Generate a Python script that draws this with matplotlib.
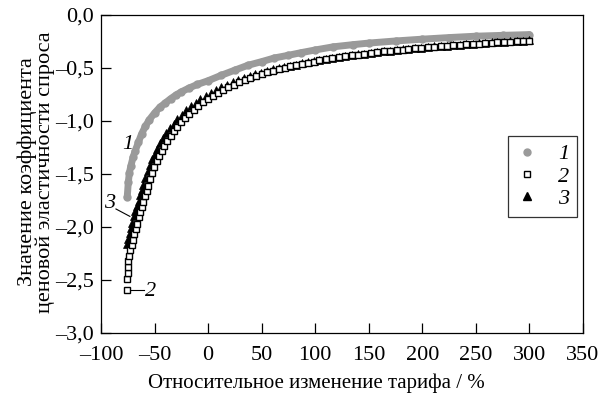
import matplotlib
matplotlib.use("Agg")
import matplotlib.pyplot as plt
from matplotlib.lines import Line2D
from matplotlib.ticker import FuncFormatter

plt.rcParams['font.family'] = ['Liberation Serif', 'DejaVu Serif']

# Series 1 (grey circles)
x1 = [-75.5, -74.5, -73.5, -72.0, -70.0, -68.0, -65.0, -62.0, -58.5, -55.0,
      -50.0, -45.0, -40.0, -35.0, -30.0, -25.0, -18.0, -10.0, 0.0, 12.0,
      25.0, 37.0, 50.0, 62.0, 75.0, 87.0, 100.0, 117.0, 135.0, 150.0,
      175.0, 200.0, 225.0, 250.0, 275.0, 300.0]
y1 = [-1.72, -1.58, -1.49, -1.42, -1.34, -1.28, -1.20, -1.12, -1.05, -0.99,
      -0.925, -0.87, -0.83, -0.79, -0.755, -0.725, -0.69, -0.655, -0.62, -0.57,
      -0.52, -0.475, -0.44, -0.405, -0.38, -0.355, -0.33, -0.30, -0.28, -0.265,
      -0.245, -0.228, -0.213, -0.20, -0.192, -0.185]

# Series 2 (open squares)
x2 = [-75.8, -75.4, -75.2, -74.9, -74.4, -73.7, -72.6, -71.4, -70.1, -68.8,
      -67.5, -66.2, -64.8, -63.3, -61.8, -60.3, -58.8, -57.3, -55.8, -54.0,
      -52.1, -50.1, -48.0, -45.7, -43.3, -40.7, -37.9, -35.0, -31.9, -28.6,
      -25.1, -21.4, -17.5, -13.5, -9.3, -4.9, -0.4, 4.3, 9.0, 13.9,
      18.9, 23.9, 29.0, 34.2, 39.4, 44.7, 50.0, 55.3, 60.7, 66.1,
      71.5, 76.9, 82.4, 87.9, 93.4, 98.9, 104, 110, 116, 122,
      128, 134, 140, 146, 152, 158, 164, 170, 176, 182,
      187, 193, 199, 205, 211, 217, 223, 229, 235, 241,
      247, 253, 259, 265, 270, 276, 282, 288, 294, 300]
y2 = [-2.59, -2.49, -2.43, -2.38, -2.32, -2.27, -2.22, -2.17, -2.12, -2.07,
      -2.02, -1.97, -1.91, -1.86, -1.81, -1.76, -1.71, -1.66, -1.61, -1.55,
      -1.49, -1.43, -1.382, -1.332, -1.283, -1.235, -1.187, -1.142, -1.097, -1.054,
      -1.011, -0.971, -0.931, -0.894, -0.859, -0.825, -0.792, -0.762, -0.734, -0.707,
      -0.681, -0.658, -0.635, -0.614, -0.595, -0.576, -0.559, -0.542, -0.527, -0.512,
      -0.498, -0.485, -0.473, -0.461, -0.449, -0.439, -0.429, -0.419, -0.409, -0.400,
      -0.390, -0.382, -0.374, -0.366, -0.358, -0.351, -0.344, -0.338, -0.332, -0.326,
      -0.321, -0.315, -0.310, -0.304, -0.299, -0.295, -0.290, -0.285, -0.281, -0.277,
      -0.273, -0.269, -0.265, -0.261, -0.258, -0.255, -0.251, -0.248, -0.245, -0.242]

# Series 3 (filled triangles)
x3 = [-75.9, -74.6, -73.3, -72.0, -70.7, -69.3, -67.8, -66.3, -64.8, -63.3,
      -61.8, -60.3, -58.5, -56.5, -54.5, -52.3, -49.9, -47.4, -44.8, -41.9,
      -38.9, -35.7, -32.2, -28.6, -24.6, -20.5, -16.2, -11.7, -7.1, -2.4,
      2.5, 7.4, 12.5, 17.7, 22.8, 28.1, 33.4, 38.7, 44.1, 49.5,
      54.9, 60.4, 65.8, 71.3, 76.7, 82.3, 87.8, 93.4, 98.9, 104,
      110, 116, 122, 128, 134, 140, 146, 152, 158, 164,
      170, 176, 182, 187, 193, 199, 205, 211, 217, 223,
      229, 235, 241, 247, 253, 259, 265, 270, 276, 282,
      288, 294, 300]
y3 = [-2.16, -2.11, -2.06, -2.01, -1.96, -1.90, -1.85, -1.80, -1.75, -1.70,
      -1.65, -1.60, -1.536, -1.475, -1.413, -1.363, -1.312, -1.261, -1.212, -1.162,
      -1.116, -1.069, -1.025, -0.980, -0.940, -0.900, -0.863, -0.828, -0.795, -0.762,
      -0.733, -0.706, -0.680, -0.656, -0.634, -0.612, -0.593, -0.576, -0.558, -0.543,
      -0.528, -0.514, -0.501, -0.489, -0.477, -0.467, -0.456, -0.445, -0.436, -0.427,
      -0.417, -0.407, -0.398, -0.388, -0.380, -0.372, -0.364, -0.356, -0.349, -0.342,
      -0.336, -0.330, -0.324, -0.319, -0.313, -0.308, -0.302, -0.297, -0.293, -0.288,
      -0.283, -0.279, -0.275, -0.271, -0.267, -0.263, -0.259, -0.256, -0.253, -0.249,
      -0.246, -0.243, -0.240]

series_labels = ['1', '2', '3']
x_ticks = [-100, -50, 0, 50, 100, 150, 200, 250, 300, 350]
y_ticks = [0.0, -0.5, -1.0, -1.5, -2.0, -2.5, -3.0]

GREY = '#9a9a9a'
FS = 16

fig = plt.figure(figsize=(6.01, 4.0), dpi=100)
ax = fig.add_axes([0.168, 0.1675, 0.802, 0.795])

ax.plot(x1, y1, color=GREY, lw=5.0, marker='o', ms=5.0, mec=GREY, mfc=GREY,
        solid_capstyle='round', solid_joinstyle='round', zorder=2)
ax.plot(x3, y3, ls='none', marker='^', ms=5.8, mfc='black', mec='black',
        mew=0.5, zorder=3)
ax.plot(x2, y2, ls='none', marker='s', ms=4.6, mfc='white', mec='black',
        mew=1.0, zorder=4)

ax.set_xlim(-100, 350)
ax.set_ylim(-3.0, 0.0)
ax.set_xticks(x_ticks)
ax.set_yticks(y_ticks)


def fmt_x(v, pos):
    return f"{v:.0f}".replace('-', '\u2013')


def fmt_y(v, pos):
    return f"{v:.1f}".replace('.', ',').replace('-', '\u2013')


ax.xaxis.set_major_formatter(FuncFormatter(fmt_x))
ax.yaxis.set_major_formatter(FuncFormatter(fmt_y))
ax.tick_params(axis='x', direction='in', length=7, width=0.9, labelsize=FS,
               pad=9, top=False)
ax.tick_params(axis='y', direction='in', length=7, width=0.9, labelsize=FS,
               pad=5, right=False)
for sp in ax.spines.values():
    sp.set_linewidth(0.9)

fig.text(316 / 601, 1 - 383 / 400, 'Относительное изменение тарифа / %',
         fontsize=15, ha='center', va='center')
fig.text(36 / 601, 1 - 172 / 400,
         'Значение коэффициента\nценовой эластичности спроса',
         rotation=90, fontsize=16, ha='center', va='center',
         multialignment='center', linespacing=0.92)

# curve labels
ax.text(-75, -1.22, '1', fontsize=FS, style='italic', ha='center', va='center')
ax.text(-92, -1.78, '3', fontsize=FS, style='italic', ha='center', va='center')
ax.plot([-86, -73], [-1.83, -1.90], color='black', lw=0.8)
ax.text(-54, -2.61, '2', fontsize=FS, style='italic', ha='center', va='center')
ax.plot([-72.5, -60], [-2.59, -2.59], color='black', lw=0.8)

handles = [
    Line2D([], [], ls='none', marker='o', ms=5, mfc=GREY, mec=GREY),
    Line2D([], [], ls='none', marker='s', ms=5, mfc='white', mec='black', mew=1.0),
    Line2D([], [], ls='none', marker='^', ms=6, mfc='black', mec='black'),
]
leg = ax.legend(handles, series_labels, loc='upper left',
                bbox_to_anchor=(0.844, 0.619), frameon=True, fancybox=False,
                edgecolor='black', handlelength=1.0, handletextpad=0.9,
                labelspacing=0.08, borderpad=0.35, borderaxespad=0.0,
                prop={'family': 'Liberation Serif', 'style': 'italic', 'size': FS})
leg.get_frame().set_linewidth(0.9)

fig.savefig('out.png', dpi=100)
